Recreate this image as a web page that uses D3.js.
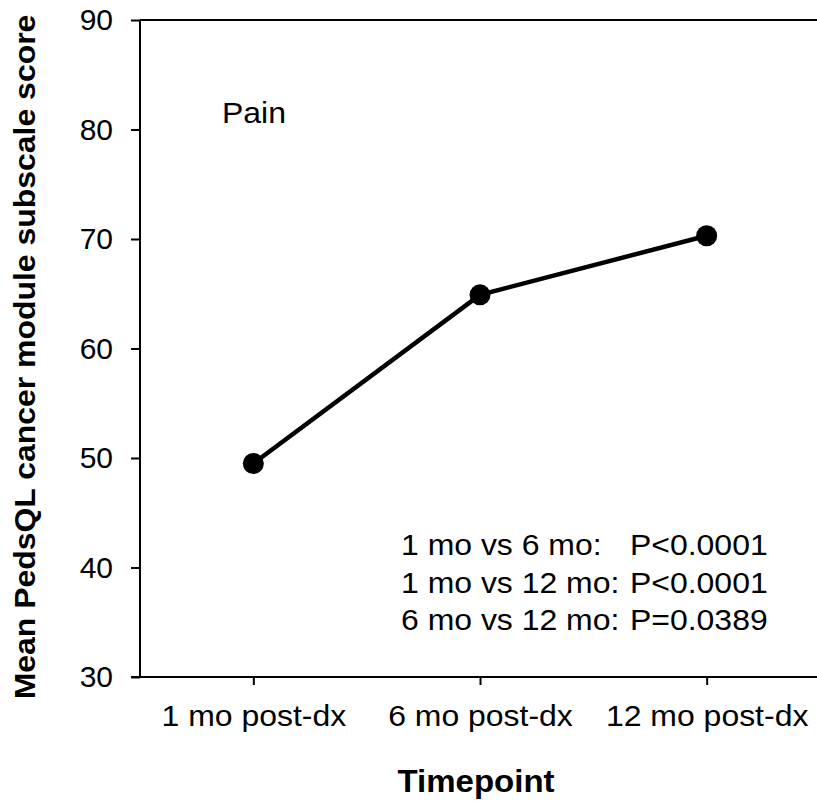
<!DOCTYPE html>
<html>
<head>
<meta charset="utf-8">
<script src="https://cdn.jsdelivr.net/npm/d3@7"></script>
<style>
  html, body { margin: 0; padding: 0; background: #fff; }
  svg { display: block; }
  text { font-family: "Liberation Sans", Arial, sans-serif; fill: #000; }
</style>
</head>
<body>
<svg id="chart" width="817" height="801"></svg>
<script>
const categories = ["1 mo post-dx", "6 mo post-dx", "12 mo post-dx"];
const scores = [49.5, 64.9, 70.3];
const yTicks = [30, 40, 50, 60, 70, 80, 90];
const panelLabel = "Pain";
const comparisons = ["1 mo vs 6 mo:", "1 mo vs 12 mo:", "6 mo vs 12 mo:"];
const pValues = ["P<0.0001", "P<0.0001", "P=0.0389"];
const xTitle = "Timepoint";
const yTitle = "Mean PedsQL cancer module subscale score";

(function () {
const svg = d3.select("#chart");
const mLeft = 140, mRight = 820, mTop = 20, mBottom = 677;
const sx = 1.065; // slight horizontal stretch of the reference's lettering

const x = d3.scalePoint().domain(categories).range([mLeft, mRight]).padding(0.5);
const y = d3.scaleLinear().domain([30, 90]).range([mBottom, mTop]);

// top border
svg.append("line")
  .attr("x1", mLeft).attr("x2", 817).attr("y1", y(90)).attr("y2", y(90))
  .attr("stroke", "#000").attr("stroke-width", 2);

// y axis
const yAxis = svg.append("g").attr("transform", `translate(${mLeft},0)`)
  .call(d3.axisLeft(y).tickValues(yTicks).tickSize(9).tickPadding(18).tickFormat(d3.format("d")));
yAxis.select(".domain").attr("stroke", "#000").attr("stroke-width", 2)
  .attr("d", `M0,${y(90)}V${y(30)}`);
yAxis.selectAll(".tick line").attr("stroke", "#000").attr("stroke-width", 2);
yAxis.selectAll(".tick text").attr("font-size", 30).attr("font-family", "Liberation Sans, Arial, sans-serif").attr("fill", "#000");

// x axis
const xAxis = svg.append("g").attr("transform", `translate(0,${mBottom})`)
  .call(d3.axisBottom(x).tickSize(8).tickPadding(20));
xAxis.select(".domain").attr("stroke", "#000").attr("stroke-width", 2)
  .attr("d", `M${mLeft - 9},0H817`);
xAxis.selectAll(".tick line").attr("stroke", "#000").attr("stroke-width", 2);
xAxis.selectAll(".tick text").attr("font-size", 30).attr("font-family", "Liberation Sans, Arial, sans-serif").attr("fill", "#000")
  .attr("transform", `scale(${sx},1)`);

// line
const pts = categories.map((c, i) => [x(c), y(scores[i])]);
svg.append("path")
  .attr("d", d3.line()(pts))
  .attr("fill", "none").attr("stroke", "#000").attr("stroke-width", 4.5);
svg.selectAll("circle.pt").data(categories).join("circle")
  .attr("class", "pt")
  .attr("cx", d => x(d)).attr("cy", (d, i) => y(scores[i]))
  .attr("r", 10.5).attr("fill", "#000");

// panel label
svg.append("text").attr("transform", `translate(222,123) scale(${sx},1)`).attr("font-size", 30).text(panelLabel);

// p-values
const pTop = 555, pStep = 37.5;
comparisons.forEach((c, i) => {
  svg.append("text").attr("transform", `translate(401,${pTop + i * pStep}) scale(${sx},1)`).attr("font-size", 30).text(c);
  svg.append("text").attr("transform", `translate(630,${pTop + i * pStep}) scale(${sx},1)`).attr("font-size", 30).text(pValues[i]);
});

// titles
svg.append("text").attr("transform", `translate(476,792) scale(${sx},1)`).attr("text-anchor", "middle")
  .attr("font-size", 31).attr("font-weight", "bold").text(xTitle);
svg.append("text").attr("transform", "translate(35,357) rotate(-90) scale(1.065,1)")
  .attr("text-anchor", "middle").attr("font-size", 30).attr("font-weight", "bold").text(yTitle);
})();
</script>
</body>
</html>
